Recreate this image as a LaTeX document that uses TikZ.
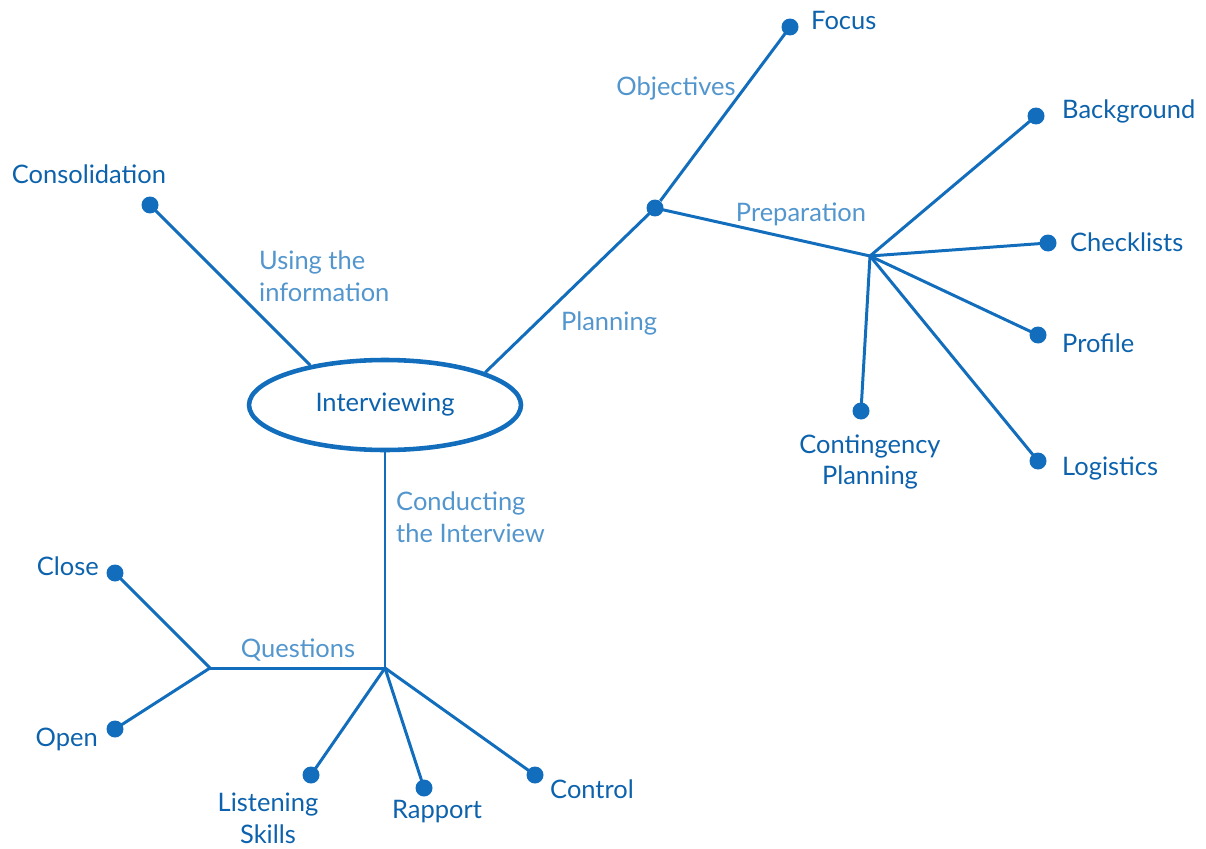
\documentclass[tikz,border=0pt]{standalone}
\usepackage{fontspec}
\setmainfont{Lato}
\usetikzlibrary{shapes.geometric}
\definecolor{mapline}{RGB}{18,110,188}
\definecolor{leaftext}{RGB}{12,98,172}
\definecolor{branchtext}{RGB}{82,150,205}
\begin{document}
\begin{tikzpicture}[x=0.02cm, y=-0.02cm,
  line/.style={mapline, line width=1.7pt},
  dot/.style={circle, fill=mapline, inner sep=0pt, minimum size=0.34cm},
  leaf/.style={text=leaftext, font=\fontsize{14.5}{18}\selectfont},
  branch/.style={text=branchtext, font=\fontsize{14.5}{18}\selectfont}]
\useasboundingbox (0,0) rectangle (1206,848);

% Centre
\node[ellipse, draw=mapline, line width=2.6pt, minimum width=5.44cm, minimum height=1.80cm,
  text=leaftext, font=\fontsize{14.5}{18}\selectfont] (iv) at (385,405) {Interviewing};

% Planning side
\node[dot] (plan) at (655,208) {};
\node[dot] (focus) at (790,27) {};
\coordinate (prep) at (870,256);
\node[dot] (backg) at (1036,116) {};
\node[dot] (check) at (1048,243) {};
\node[dot] (prof) at (1038,335) {};
\node[dot] (logi) at (1038,461) {};
\node[dot] (conti) at (861,411) {};
\draw[line] (iv.18) -- (plan.center);
\draw[line] (plan) -- (focus.center);
\draw[line] (plan.center) -- (prep);
\foreach \n in {backg, check, prof, logi, conti}
  \draw[line] (prep) -- (\n.center);

% Using the information
\node[dot] (cons) at (150,205) {};
\draw[line] (iv.152) -- (cons.center);

% Conducting the interview
\coordinate (cond) at (385,668);
\coordinate (ques) at (210,668);
\node[dot] (close) at (115,573) {};
\node[dot] (open) at (115,729) {};
\node[dot] (listen) at (311,775) {};
\node[dot] (rapp) at (424,788) {};
\node[dot] (contr) at (535,775) {};
\draw[line] (iv.south) -- (cond) -- (ques);
\draw[line] (ques) -- (close.center);
\draw[line] (ques) -- (open.center);
\foreach \n in {listen, rapp, contr}
  \draw[line] (cond) -- (\n.center);

% Leaf labels
\node[leaf, anchor=west] (lfocus) at (805,20) {Focus};
\node[leaf, anchor=west] (lbackg) at (1056,111) {Background};
\node[leaf, anchor=west] (lcheck) at (1064,242) {Checklists};
\node[leaf, anchor=west] (lprof) at (1056,343) {Profile};
\node[leaf, anchor=west] (llogi) at (1056,468) {Logistics};
\node[leaf, align=center] (lconti) at (870,462) {Contingency\\Planning};
\node[leaf] (lcons) at (89,174) {Consolidation};
\node[leaf, anchor=east] (lclose) at (105,566) {Close};
\node[leaf, anchor=east] (lopen) at (104,739) {Open};
\node[leaf, align=center] (llisten) at (268,818) {Listening\\Skills};
\node[leaf] (lrapp) at (437,812) {Rapport};
\node[leaf, anchor=west] (lcontr) at (544,789) {Control};

% Branch labels
\node[branch] (lobj) at (676,88) {Objectives};
\node[branch] (lprep) at (801,214) {Preparation};
\node[branch] (lplan) at (609,323) {Planning};
\node[branch, anchor=west, align=left] (luse) at (253,276) {Using the\\information};
\node[branch, anchor=west, align=left] (lcond) at (390,517) {Conducting\\the Interview};
\node[branch] (lques) at (298,650) {Questions};
\end{tikzpicture}
\end{document}
